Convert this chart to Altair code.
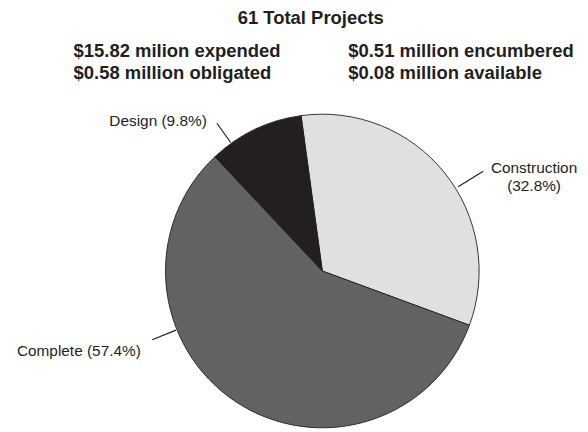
import altair as alt
import pandas as pd
import numpy as np

# ---- data ----
categories = ["Construction", "Complete", "Design"]
projects = [20, 35, 6]            # 61 total projects
label_texts = ["Construction\n(32.8%)", "Complete (57.4%)", "Design (9.8%)"]
colors = ["#e0e0e2", "#626264", "#231f20"]
title_text = "61 Total Projects"
left_lines = ["$15.82 milion expended", "$0.58 million obligated"]
right_lines = ["$0.51 million encumbered", "$0.08 million available"]

# ---- layout constants ----
W, H = 580, 424
CX, CY = 318.7, 263.7
R = 159
START = np.deg2rad(-7.8)
FONT = "Liberation Sans"

# label anchor (polar, deg / px) and leader lines (deg, inner r, outer r)
label_pos = {"Construction": (64.1, 238.7), "Complete": (-113.9, 201.3), "Design": (-37.6, 192.0)}
leader_pos = {"Construction": (58.2, 162, 192), "Complete": (-112.0, 160, 186), "Design": (-35.5, 160, 184)}

df = pd.DataFrame({"cat": categories, "n": projects, "ord": range(len(categories)),
                   "label": label_texts})
df["la"] = [np.deg2rad(label_pos[c][0]) for c in categories]
df["lr"] = [label_pos[c][1] for c in categories]
df["x1"] = [CX + leader_pos[c][1] * np.sin(np.deg2rad(leader_pos[c][0])) for c in categories]
df["y1"] = [CY - leader_pos[c][1] * np.cos(np.deg2rad(leader_pos[c][0])) for c in categories]
df["x2"] = [CX + leader_pos[c][2] * np.sin(np.deg2rad(leader_pos[c][0])) for c in categories]
df["y2"] = [CY - leader_pos[c][2] * np.cos(np.deg2rad(leader_pos[c][0])) for c in categories]

base = alt.Chart(df)

pie = base.mark_arc(outerRadius=R, stroke="#231f20", strokeWidth=0.9).encode(
    theta=alt.Theta("n:Q", stack=True, scale=alt.Scale(range=[START, START + 2 * np.pi])),
    color=alt.Color("cat:N", scale=alt.Scale(domain=categories, range=colors), legend=None),
    order=alt.Order("ord:Q"),
    x=alt.value(CX), y=alt.value(CY),
)

leaders = base.mark_rule(color="#231f20", strokeWidth=1.2).encode(
    x=alt.X("x1:Q", scale=None), y=alt.Y("y1:Q", scale=None),
    x2="x2:Q", y2="y2:Q",
)

lab_right = base.transform_filter(alt.datum.cat != "Construction").mark_text(
    font=FONT, fontSize=15.6, align="right", baseline="middle", color="#231f20"
).encode(
    text="label:N", theta=alt.Theta("la:Q", scale=None), radius=alt.Radius("lr:Q", scale=None),
    x=alt.value(CX), y=alt.value(CY),
)

lab_center = base.transform_filter(alt.datum.cat == "Construction").mark_text(
    font=FONT, fontSize=15.6, align="center", baseline="middle", color="#231f20",
    lineBreak="\n", lineHeight=18.5,
).encode(
    text="label:N", theta=alt.Theta("la:Q", scale=None), radius=alt.Radius("lr:Q", scale=None),
    x=alt.value(CX), y=alt.value(CY),
)


def header(txt, x, y, align):
    return alt.Chart(pd.DataFrame({"t": [txt]})).mark_text(
        font=FONT, fontSize=18.7, fontWeight="bold", align=align, baseline="alphabetic", color="#231f20"
    ).encode(text="t:N", x=alt.value(x), y=alt.value(y))


headers = [header(title_text, 307, 13.7, "center"),
           header(left_lines[0], 66.5, 47, "left"),
           header(left_lines[1], 66.5, 68.7, "left"),
           header(right_lines[0], 345, 47, "left"),
           header(right_lines[1], 345, 68.7, "left")]

chart = alt.layer(pie, leaders, lab_right, lab_center, *headers).properties(
    width=W, height=H, autosize=alt.AutoSizeParams(type="none"), padding=0,
).configure_view(stroke=None)

chart.save("out.html", embed_options={"renderer": "svg", "actions": False})
